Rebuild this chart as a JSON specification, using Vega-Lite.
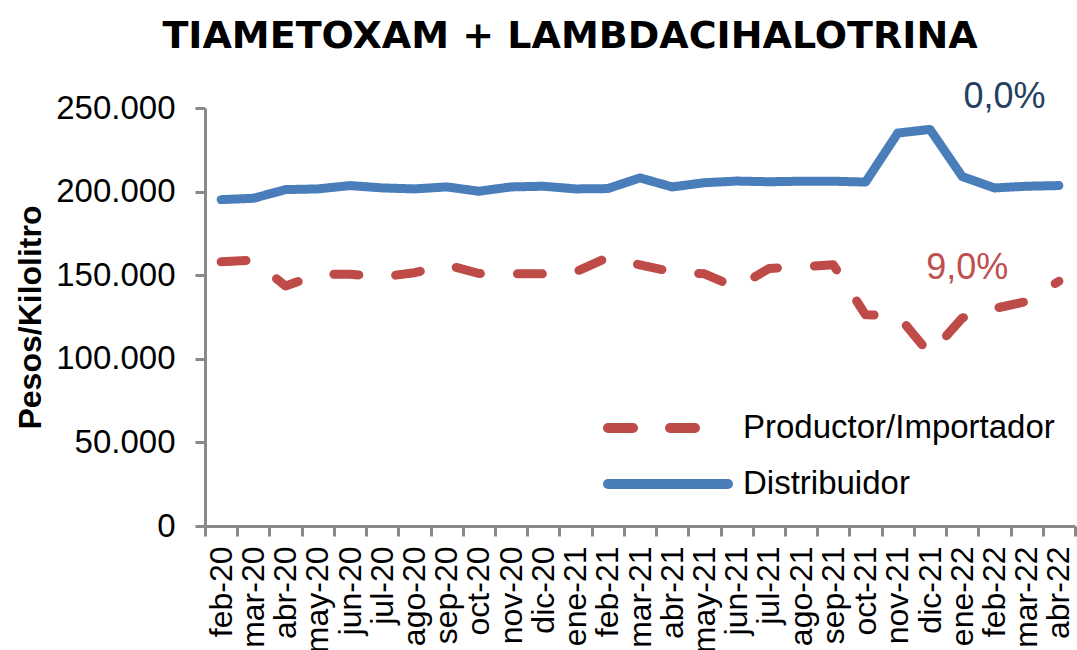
{
  "$schema": "https://vega.github.io/schema/vega-lite/v6.json",
  "width": 870,
  "height": 418,
  "autosize": "none",
  "padding": {"left": 205, "top": 108, "right": 2, "bottom": 124},
  "background": "white",
  "title": {
    "text": "TIAMETOXAM + LAMBDACIHALOTRINA",
    "font": "DejaVu Sans",
    "fontSize": 38,
    "fontWeight": "bold",
    "color": "black",
    "anchor": "middle",
    "dx": -70,
    "offset": 23
  },
  "config": {
    "view": {"stroke": null},
    "font": "Liberation Sans"
  },
  "datasets": {
    "series": [
      {"mes": "feb-20", "serie": "Distribuidor", "valor": 195200},
      {"mes": "mar-20", "serie": "Distribuidor", "valor": 196000},
      {"mes": "abr-20", "serie": "Distribuidor", "valor": 201200},
      {"mes": "may-20", "serie": "Distribuidor", "valor": 201600},
      {"mes": "jun-20", "serie": "Distribuidor", "valor": 203600},
      {"mes": "jul-20", "serie": "Distribuidor", "valor": 202200},
      {"mes": "ago-20", "serie": "Distribuidor", "valor": 201600},
      {"mes": "sep-20", "serie": "Distribuidor", "valor": 202800},
      {"mes": "oct-20", "serie": "Distribuidor", "valor": 200200},
      {"mes": "nov-20", "serie": "Distribuidor", "valor": 202800},
      {"mes": "dic-20", "serie": "Distribuidor", "valor": 203200},
      {"mes": "ene-21", "serie": "Distribuidor", "valor": 201600},
      {"mes": "feb-21", "serie": "Distribuidor", "valor": 201800},
      {"mes": "mar-21", "serie": "Distribuidor", "valor": 208200},
      {"mes": "abr-21", "serie": "Distribuidor", "valor": 202800},
      {"mes": "may-21", "serie": "Distribuidor", "valor": 205300},
      {"mes": "jun-21", "serie": "Distribuidor", "valor": 206300},
      {"mes": "jul-21", "serie": "Distribuidor", "valor": 205900},
      {"mes": "ago-21", "serie": "Distribuidor", "valor": 206200},
      {"mes": "sep-21", "serie": "Distribuidor", "valor": 206200},
      {"mes": "oct-21", "serie": "Distribuidor", "valor": 205700},
      {"mes": "nov-21", "serie": "Distribuidor", "valor": 235000},
      {"mes": "dic-21", "serie": "Distribuidor", "valor": 237200},
      {"mes": "ene-22", "serie": "Distribuidor", "valor": 209000},
      {"mes": "feb-22", "serie": "Distribuidor", "valor": 202200},
      {"mes": "mar-22", "serie": "Distribuidor", "valor": 203200},
      {"mes": "abr-22", "serie": "Distribuidor", "valor": 203600},
      {"mes": "feb-20", "serie": "Productor/Importador", "valor": 158000},
      {"mes": "mar-20", "serie": "Productor/Importador", "valor": 159000},
      {"mes": "abr-20", "serie": "Productor/Importador", "valor": 143500},
      {"mes": "may-20", "serie": "Productor/Importador", "valor": 150500},
      {"mes": "jun-20", "serie": "Productor/Importador", "valor": 150600},
      {"mes": "jul-20", "serie": "Productor/Importador", "valor": 149000},
      {"mes": "ago-20", "serie": "Productor/Importador", "valor": 151500},
      {"mes": "sep-20", "serie": "Productor/Importador", "valor": 156200},
      {"mes": "oct-20", "serie": "Productor/Importador", "valor": 151000},
      {"mes": "nov-20", "serie": "Productor/Importador", "valor": 150800},
      {"mes": "dic-20", "serie": "Productor/Importador", "valor": 150800},
      {"mes": "ene-21", "serie": "Productor/Importador", "valor": 152000},
      {"mes": "feb-21", "serie": "Productor/Importador", "valor": 160600},
      {"mes": "mar-21", "serie": "Productor/Importador", "valor": 156200},
      {"mes": "abr-21", "serie": "Productor/Importador", "valor": 152000},
      {"mes": "may-21", "serie": "Productor/Importador", "valor": 150800},
      {"mes": "jun-21", "serie": "Productor/Importador", "valor": 142500},
      {"mes": "jul-21", "serie": "Productor/Importador", "valor": 154000},
      {"mes": "ago-21", "serie": "Productor/Importador", "valor": 155000},
      {"mes": "sep-21", "serie": "Productor/Importador", "valor": 156200},
      {"mes": "oct-21", "serie": "Productor/Importador", "valor": 126300},
      {"mes": "nov-21", "serie": "Productor/Importador", "valor": 126000},
      {"mes": "dic-21", "serie": "Productor/Importador", "valor": 102700},
      {"mes": "ene-22", "serie": "Productor/Importador", "valor": 124400},
      {"mes": "feb-22", "serie": "Productor/Importador", "valor": 130100},
      {"mes": "mar-22", "serie": "Productor/Importador", "valor": 134300},
      {"mes": "abr-22", "serie": "Productor/Importador", "valor": 146400}
    ],
    "notas": [
      {"mes": "feb-22", "valor": 256300, "texto": "0,0%", "serie": "Distribuidor"},
      {"mes": "ene-22", "valor": 154300, "texto": "9,0%", "serie": "Productor/Importador"}
    ]
  },
  "encoding": {
    "x": {
      "field": "mes",
      "type": "nominal",
      "scale": {
        "type": "band",
        "paddingInner": 0,
        "paddingOuter": 0,
        "domain": ["feb-20","mar-20","abr-20","may-20","jun-20","jul-20","ago-20","sep-20","oct-20","nov-20","dic-20","ene-21","feb-21","mar-21","abr-21","may-21","jun-21","jul-21","ago-21","sep-21","oct-21","nov-21","dic-21","ene-22","feb-22","mar-22","abr-22"]
      },
      "axis": {
        "title": null,
        "labelAngle": -90,
        "labelFontSize": 32,
        "labelColor": "black",
        "labelPadding": 10,
        "labelOverlap": false,
        "labelBound": false,
        "tickBand": "extent",
        "tickSize": 10,
        "tickWidth": 3,
        "tickColor": "#898989",
        "domainColor": "#898989",
        "domainWidth": 3,
        "grid": false
      }
    },
    "y": {
      "field": "valor",
      "type": "quantitative",
      "scale": {"domain": [0, 250000], "nice": false, "zero": true},
      "axis": {
        "title": "Pesos/Kilolitro",
        "titleFontSize": 32,
        "titleFontWeight": "bold",
        "titleColor": "black",
        "titlePadding": 8,
        "values": [0, 50000, 100000, 150000, 200000, 250000],
        "labelExpr": "replace(format(datum.value, ','), ',', '.')",
        "labelFontSize": 33,
        "labelColor": "black",
        "labelPadding": 20,
        "tickSize": 10,
        "tickWidth": 3,
        "tickColor": "#898989",
        "domainColor": "#898989",
        "domainWidth": 3,
        "grid": false
      }
    }
  },
  "layer": [
    {
      "data": {"name": "series"},
      "mark": {"type": "line", "strokeWidth": 9, "strokeCap": "round", "strokeJoin": "round"},
      "encoding": {
        "color": {
          "field": "serie",
          "type": "nominal",
          "scale": {"domain": ["Productor/Importador", "Distribuidor"], "range": ["#BE4B48", "#4A7EBB"]},
          "legend": {
            "title": null,
            "orient": "none",
            "legendX": 442,
            "legendY": 299,
            "padding": 0,
            "symbolType": "M-3.75,0H3.75",
            "symbolSize": 1024,
            "symbolStrokeWidth": 10,
            "labelFontSize": 33,
            "labelColor": "black",
            "labelOffset": 54,
            "rowPadding": 15,
            "labelLimit": 500,
            "encode": {"symbols": {"update": {"strokeCap": {"value": "round"}}}}
          }
        },
        "strokeDash": {
          "field": "serie",
          "type": "nominal",
          "scale": {"domain": ["Productor/Importador", "Distribuidor"], "range": [[25, 37], [1, 0]]},
          "legend": {
            "title": null,
            "orient": "none",
            "legendX": 442,
            "legendY": 299,
            "padding": 0,
            "symbolType": "M-3.75,0H3.75",
            "symbolSize": 1024,
            "symbolStrokeWidth": 10,
            "labelFontSize": 33,
            "labelColor": "black",
            "labelOffset": 54,
            "rowPadding": 15,
            "labelLimit": 500,
            "encode": {"symbols": {"update": {"strokeCap": {"value": "round"}}}}
          }
        }
      }
    },
    {
      "data": {"name": "notas"},
      "transform": [{"filter": "datum.serie == 'Distribuidor'"}],
      "mark": {"type": "text", "fontSize": 36, "color": "#243F60", "baseline": "middle", "align": "center", "dx": 10},
      "encoding": {"text": {"field": "texto"}}
    },
    {
      "data": {"name": "notas"},
      "transform": [{"filter": "datum.serie == 'Productor/Importador'"}],
      "mark": {"type": "text", "fontSize": 36, "color": "#C0504D", "baseline": "middle", "align": "center", "dx": 5},
      "encoding": {"text": {"field": "texto"}}
    }
  ]
}
